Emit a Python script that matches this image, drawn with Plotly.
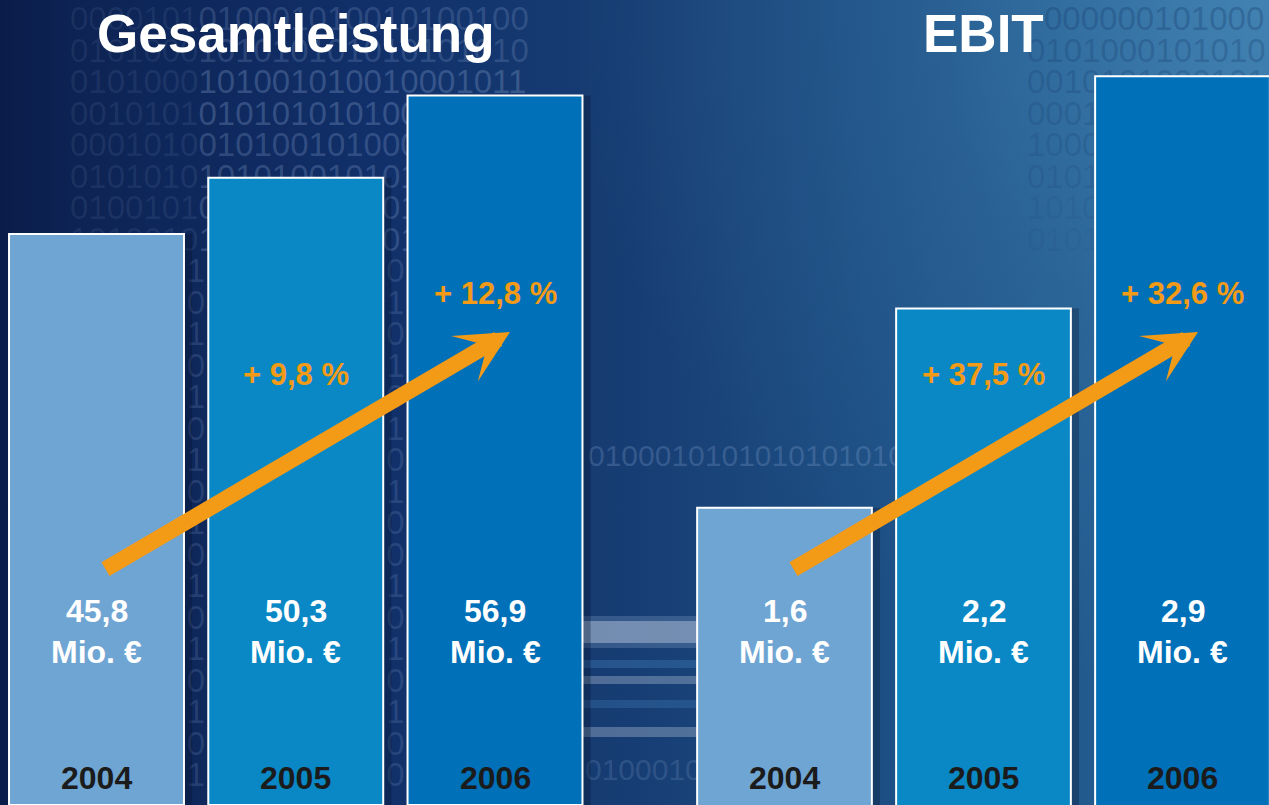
import plotly.graph_objects as go

# ---------------- data ----------------
years = ["2004", "2005", "2006"]
gesamtleistung = [45.8, 50.3, 56.9]          # Mio. EUR
ebit = [1.6, 2.2, 2.9]                       # Mio. EUR
gesamt_growth = ["", "+ 9,8 %", "+ 12,8 %"]
ebit_growth = ["", "+ 37,5 %", "+ 32,6 %"]
titles = ["Gesamtleistung", "EBIT"]
unit_label = "Mio. €"

# ---------------- style ----------------
W, H = 1269, 805
bar_colors = ["#6FA5D3", "#0A88C6", "#0070B8"]
orange = "#F39A17"
FONT = "Liberation Sans, Arial, sans-serif"
growth_y_px = [None, 374, 293]

def py(px):
    return 1 - px / H

def fmt(v):
    return f"{v:.1f}".replace(".", ",")

fig = go.Figure()

# ---------- decorative background (subplot x/y, drawn first) ----------
fig.add_trace(go.Scatter(
    x=[0, W, W, 0, 0], y=[0, 0, H, H, 0], mode="lines", fill="toself",
    line=dict(width=0), hoverinfo="skip",
    fillgradient=dict(type="horizontal", colorscale=[
        [0.0, "#0A1C4A"], [0.06, "#0D2353"], [0.3, "#11306A"],
        [0.5, "#173E74"], [0.7, "#1D4F84"], [0.85, "#225A8E"], [1.0, "#2A6698"]]),
    xaxis="x", yaxis="y"))
# lighter glow top right (radial)
fig.add_trace(go.Scatter(
    x=[W - 700, W + 700, W + 700, W - 700, W - 700], y=[-700, -700, 700, 700, -700],
    mode="lines", fill="toself", line=dict(width=0), hoverinfo="skip",
    fillgradient=dict(type="radial", colorscale=[
        [0.0, "rgba(95,165,210,0.45)"], [0.5, "rgba(95,165,210,0.15)"],
        [1.0, "rgba(95,165,210,0.0)"]]),
    xaxis="x", yaxis="y"))

# blurred light stripes between the groups
stripes = [(616, 648, "rgba(150,175,210,0.25)"), (621, 643, "rgba(190,205,225,0.45)"),
           (660, 668, "rgba(70,130,190,0.35)"),
           (676, 684, "rgba(185,200,222,0.35)"), (700, 708, "rgba(70,130,190,0.3)"),
           (727, 737, "rgba(185,200,222,0.35)")]
for y0, y1, c in stripes:
    fig.add_trace(go.Scatter(
        x=[583, 700, 700, 583, 583], y=[y0, y0, y1, y1, y0], mode="lines",
        fill="toself", fillcolor=c, line=dict(width=0), hoverinfo="skip",
        xaxis="x", yaxis="y"))

# binary digit texture (upper block, full rows)
left_rows = ["0000101010001010010100100", "0101000101010101010101010",
             "0101000101001010010001011", "0010101010101010100101000",
             "0001010010100101000101010", "0101010101010010101010101",
             "0100101010010100101001010", "1010010100010101001010010"]
CW = 0.556 * 33   # digit advance width at 33 px
for i, s in enumerate(left_rows):
    yy = 22 + 31.5 * i
    a = 0.2 if i < 2 else 0.27 - 0.007 * i
    for x0, part, aa in [(70, s[:7], a * 0.45), (70 + 7 * CW, s[7:], a)]:
        fig.add_trace(go.Scatter(
            x=[x0], y=[yy], mode="text", text=[part], textposition="middle right",
            textfont=dict(family=FONT, size=33, color=f"rgba(165,190,230,{aa:.3f})"),
            hoverinfo="skip", xaxis="x", yaxis="y"))

# digits that remain visible in the gaps between the left bars
gap_cols = ["10101010101010101", "01010101001010100"]
gap_x = [196, 395.5]
gap_y = [22 + 31.5 * (len(left_rows) + k) for k in range(len(gap_cols[0]))]
for gx, col in zip(gap_x, gap_cols):
    fig.add_trace(go.Scatter(
        x=[gx] * len(col), y=gap_y, mode="text", text=list(col), textposition="middle center",
        textfont=dict(family=FONT, size=33, color="rgba(165,190,230,0.16)"),
        hoverinfo="skip", xaxis="x", yaxis="y"))

right_rows = ["000000101000", "0101000101010", "0010101000101", "0001010010100",
              "1000101010010", "0101010010101", "1010010101001", "0101001010010"]
for i, s in enumerate(right_rows):
    fig.add_trace(go.Scatter(
        x=[1044 if i == 0 else 1027], y=[22 + 31.5 * i], mode="text", text=[s],
        textposition="middle right",
        textfont=dict(family=FONT, size=33, color=f"rgba(25,65,115,{0.36 - 0.035 * i:.3f})"),
        hoverinfo="skip", xaxis="x", yaxis="y"))

mid_rows = [(588, 458, "0100010101010101010", 0.22), (585, 772, "0100010", 0.18)]
for x0, yy, s, a in mid_rows:
    fig.add_trace(go.Scatter(
        x=[x0], y=[yy], mode="text", text=[s], textposition="middle right",
        textfont=dict(family=FONT, size=30, color=f"rgba(165,190,230,{a})"),
        hoverinfo="skip", xaxis="x", yaxis="y"))

# ---------- bars ----------
groups = [("x2", "y2", gesamtleistung, gesamt_growth),
          ("x3", "y3", ebit, ebit_growth)]
for xa, ya, vals, growth in groups:
    # soft shadow
    fig.add_trace(go.Bar(
        x=years, y=vals, width=0.88, offset=-0.40,
        marker=dict(color="rgba(5,15,40,0.3)", line=dict(width=0)),
        hoverinfo="skip", xaxis=xa, yaxis=ya))
    fig.add_trace(go.Bar(
        x=years, y=vals, width=0.878,
        marker=dict(color=bar_colors, line=dict(color="white", width=2)),
        hoverinfo="skip", xaxis=xa, yaxis=ya))

ann = []
def txt(x, xa, ypx, text, size, color):
    return dict(x=x, y=py(ypx), xref=xa, yref="paper", text=text, showarrow=False,
                xanchor="center", yanchor="middle",
                font=dict(family=FONT, size=size, color=color, weight="bold"))

for (xa, ya, vals, growth), title in zip(groups, titles):
    ann.append(txt(1, xa, 34, title, 53, "white"))
    for i, (yr, v, g) in enumerate(zip(years, vals, growth)):
        ann.append(txt(i, xa, 611, fmt(v), 32, "white"))
        ann.append(txt(i, xa, 652, unit_label, 32, "white"))
        ann.append(txt(i, xa, 778, yr, 32, "#1B1B1B"))
        if g:
            ann.append(txt(i, xa, growth_y_px[i], g, 31, orange))

# trend arrows
for tip_x in [510, 1198]:
    ann.append(dict(x=tip_x / W, y=py(332), xref="paper", yref="paper", text="",
                    showarrow=True, ax=-406, ay=238, arrowhead=3, arrowwidth=16,
                    arrowsize=0.55, arrowcolor=orange, standoff=0))

fig.update_layout(
    width=W, height=H, margin=dict(l=0, r=0, t=0, b=0),
    paper_bgcolor="#12305F", plot_bgcolor="rgba(0,0,0,0)",
    showlegend=False, annotations=ann, barmode="overlay",
    xaxis=dict(domain=[0, 1], range=[0, W], visible=False, fixedrange=True),
    yaxis=dict(domain=[0, 1], range=[H, 0], visible=False, fixedrange=True),
    xaxis2=dict(domain=[0, 0.47], type="category", range=[-0.4843, 2.509],
                visible=False, fixedrange=True),
    yaxis2=dict(domain=[0, 1], range=[0, 64.56], visible=False, fixedrange=True,
                anchor="x2"),
    xaxis3=dict(domain=[0.5, 1], type="category", range=[-0.7538, 2.4347],
                visible=False, fixedrange=True),
    yaxis3=dict(domain=[0, 1], range=[0.704, 3.13], visible=False, fixedrange=True,
                anchor="x3"),
)

fig.write_html("out.html", config={"displayModeBar": False},
               post_script="document.body.style.margin='0';document.body.style.overflow='hidden';")
